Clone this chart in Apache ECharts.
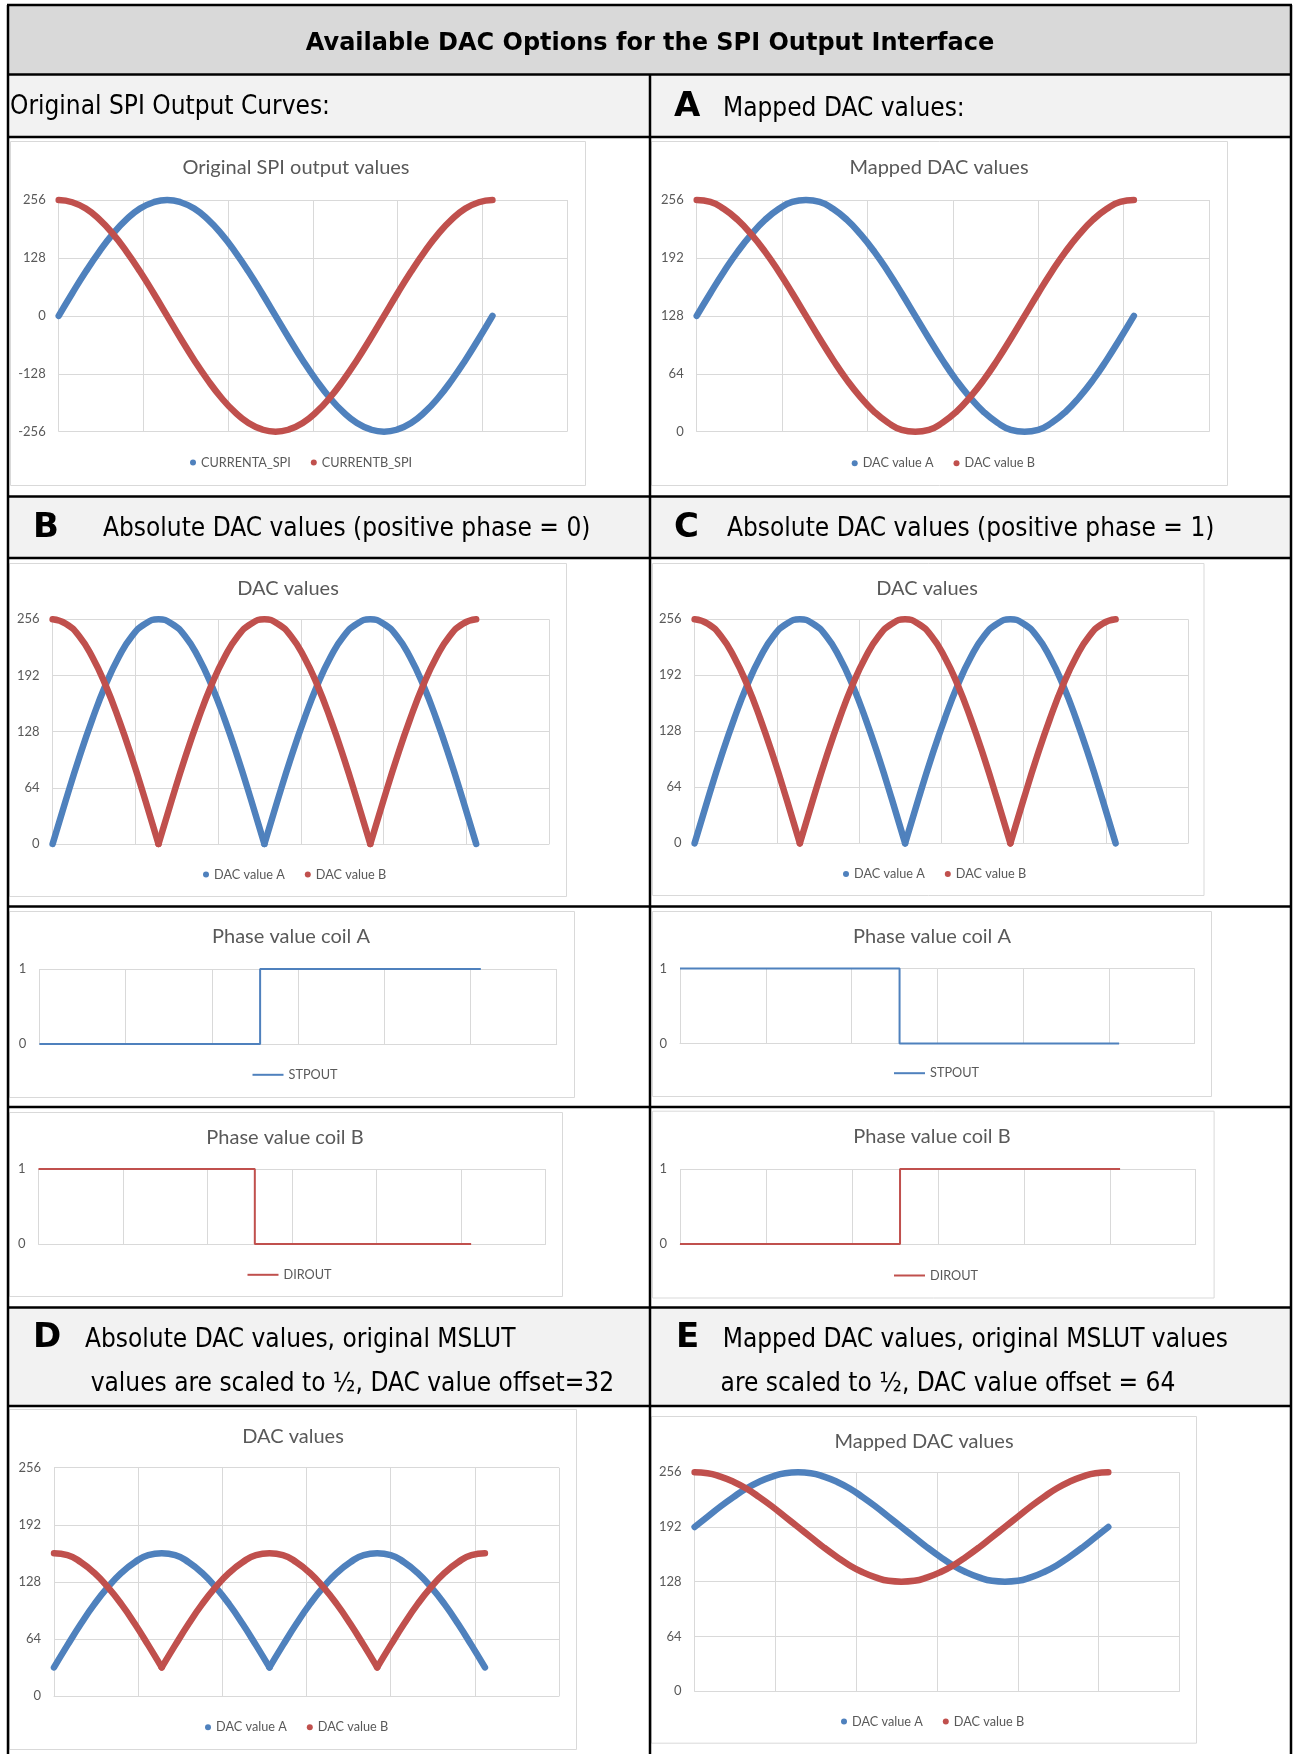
<!DOCTYPE html>
<html>
<head>
<meta charset="utf-8">
<title>Available DAC Options for the SPI Output Interface</title>
<script src="https://cdn.jsdelivr.net/npm/echarts@6/dist/echarts.min.js"></script>
<style>
    html, body { margin: 0; padding: 0; background: #fff; }
    #main { width: 1293px; height: 1754px; }
</style>
</head>
<body>
<div id="main"></div>
<script>
// microstep position (x) of every sampled point, 0..1024
var xSteps = [0, 32, 64, 96, 128, 160, 192, 224, 256, 288, 320, 352, 384, 416, 448, 480, 512,
    544, 576, 608, 640, 672, 704, 736, 768, 800, 832, 864, 896, 928, 960, 992, 1024];

// original SPI output curves
var spiA = [0, 50, 98, 142, 181, 213, 237, 251, 256, 251, 237, 213, 181, 142, 98, 50, 0,
    -50, -98, -142, -181, -213, -237, -251, -256, -251, -237, -213, -181, -142, -98, -50, 0];
var spiB = [256, 251, 237, 213, 181, 142, 98, 50, 0, -50, -98, -142, -181, -213, -237, -251, -256,
    -251, -237, -213, -181, -142, -98, -50, 0, 50, 98, 142, 181, 213, 237, 251, 256];

// A: mapped DAC values
var mapA = [128, 153, 177, 199, 218, 234, 246, 254, 256, 254, 246, 234, 218, 199, 177, 153, 128,
    103, 79, 57, 38, 22, 10, 2, 0, 2, 10, 22, 38, 57, 79, 103, 128];
var mapB = [256, 254, 246, 234, 218, 199, 177, 153, 128, 103, 79, 57, 38, 22, 10, 2, 0,
    2, 10, 22, 38, 57, 79, 103, 128, 153, 177, 199, 218, 234, 246, 254, 256];

// B / C: absolute DAC values
var absA = [0, 50, 98, 142, 181, 213, 237, 251, 256, 251, 237, 213, 181, 142, 98, 50, 0,
    50, 98, 142, 181, 213, 237, 251, 256, 251, 237, 213, 181, 142, 98, 50, 0];
var absB = [256, 251, 237, 213, 181, 142, 98, 50, 0, 50, 98, 142, 181, 213, 237, 251, 256,
    251, 237, 213, 181, 142, 98, 50, 0, 50, 98, 142, 181, 213, 237, 251, 256];

// D: absolute, scaled to 1/2, offset 32
var halfAbsA = [32, 57, 81, 103, 122, 138, 150, 158, 160, 158, 150, 138, 122, 103, 81, 57, 32,
    57, 81, 103, 122, 138, 150, 158, 160, 158, 150, 138, 122, 103, 81, 57, 32];
var halfAbsB = [160, 158, 150, 138, 122, 103, 81, 57, 32, 57, 81, 103, 122, 138, 150, 158, 160,
    158, 150, 138, 122, 103, 81, 57, 32, 57, 81, 103, 122, 138, 150, 158, 160];

// E: mapped, scaled to 1/2, offset 64
var halfMapA = [192, 204, 216, 227, 237, 245, 251, 255, 256, 255, 251, 245, 237, 227, 216, 204, 192,
    180, 168, 157, 147, 139, 133, 129, 128, 129, 133, 139, 147, 157, 168, 180, 192];
var halfMapB = [256, 255, 251, 245, 237, 227, 216, 204, 192, 180, 168, 157, 147, 139, 133, 129, 128,
    129, 133, 139, 147, 157, 168, 180, 192, 204, 216, 227, 237, 245, 251, 255, 256];

// phase outputs (step charts)
var phaseX = [0, 512, 1024];
var stpoutPhase0 = [0, 1, 1];
var diroutPhase0 = [1, 0, 0];
var stpoutPhase1 = [1, 0, 0];
var diroutPhase1 = [0, 1, 1];

var BLUE = '#4F81BD', RED = '#C0504D', GRID = '#d9d9d9', TXT = '#595959';
var chartFont = 'Lato';
var headFont = 'DejaVu Sans';
var sectFont = 'DejaVu Sans Condensed';

// every small Excel chart in the table: box, plot area, title, legend
var panels = [
    {box: [10, 141, 575, 344], plot: [58.7, 200, 508.3, 231.7], title: 'Original SPI output values', tp: [296, 168],
        lg: [190, 463], y: [-256, 256, 128],
        lines: [['CURRENTA_SPI', spiA, BLUE], ['CURRENTB_SPI', spiB, RED]]},
    {box: [651, 141, 576, 344], plot: [696.7, 200, 512.3, 231.7], title: 'Mapped DAC values', tp: [939, 168],
        lg: [851.7, 463.7], y: [0, 256, 64],
        lines: [['DAC value A', mapA, BLUE], ['DAC value B', mapB, RED]]},
    {box: [9, 563, 557, 333], plot: [52.6, 619.3, 496.4, 224.7], title: 'DAC values', tp: [288, 589],
        lg: [203, 875], y: [0, 256, 64], cusp: true,
        lines: [['DAC value A', absA, BLUE], ['DAC value B', absB, RED]]},
    {box: [652, 563, 551.5, 332], plot: [694.6, 619.3, 493.4, 224], title: 'DAC values', tp: [927, 589],
        lg: [843, 874.6], y: [0, 256, 64], cusp: true,
        lines: [['DAC value A', absA, BLUE], ['DAC value B', absB, RED]]},
    {box: [9, 911, 565, 186], plot: [39.4, 969, 517.3, 75], title: 'Phase value coil A', tp: [291, 937],
        lg: [252.5, 1075.3], y: [0, 1, 1], step: true,
        lines: [['STPOUT', stpoutPhase0, BLUE]]},
    {box: [9, 1112, 553, 184], plot: [38.5, 1169, 507, 75], title: 'Phase value coil B', tp: [285, 1138],
        lg: [247.5, 1275.3], y: [0, 1, 1], step: true,
        lines: [['DIROUT', diroutPhase0, RED]]},
    {box: [652, 911, 559, 185], plot: [680, 968.6, 514.6, 75], title: 'Phase value coil A', tp: [932, 937],
        lg: [894, 1073.7], y: [0, 1, 1], step: true,
        lines: [['STPOUT', stpoutPhase1, BLUE]]},
    {box: [652, 1110.7, 561.6, 186.8], plot: [680, 1169, 515.7, 75], title: 'Phase value coil B', tp: [932, 1137],
        lg: [894, 1276], y: [0, 1, 1], step: true,
        lines: [['DIROUT', diroutPhase1, RED]]},
    {box: [9, 1409, 567, 340], plot: [54, 1467.7, 505, 228.3], title: 'DAC values', tp: [293, 1436.5],
        lg: [205, 1727.7], y: [0, 256, 64], cusp: true,
        lines: [['DAC value A', halfAbsA, BLUE], ['DAC value B', halfAbsB, RED]]},
    {box: [651, 1416, 545, 326.7], plot: [694.6, 1472.3, 484.8, 218.7], title: 'Mapped DAC values', tp: [924, 1441.5],
        lg: [841, 1722], y: [0, 256, 64],
        lines: [['DAC value A', halfMapA, BLUE], ['DAC value B', halfMapB, RED]]}
];

// the |sin| curves have sharp corners at zero: smooth each arch on its own
function archRanges(vals) {
    var parts = [], start = 0;
    for (var k = 1; k < vals.length - 1; k++) {
        if (vals[k] < vals[k - 1] && vals[k] < vals[k + 1]) {
            parts.push([start, k]);
            start = k;
        }
    }
    parts.push([start, vals.length - 1]);
    return parts;
}

var grid = [], xAxis = [], yAxis = [], series = [], legend = [], graphic = [];

// table backgrounds (header row + section rows)
var xL = 8, xM = 650, xR = 1291;
graphic.push({type: 'rect', shape: {x: xL, y: 5, width: xR - xL, height: 69.5}, style: {fill: '#d9d9d9'}});
[[74.5, 137], [496.5, 558], [1307.5, 1406]].forEach(function (r) {
    graphic.push({type: 'rect', shape: {x: xL, y: r[0], width: xR - xL, height: r[1] - r[0]}, style: {fill: '#f2f2f2'}});
});

panels.forEach(function (p, i) {
    grid.push({left: p.plot[0], top: p.plot[1], width: p.plot[2], height: p.plot[3]});
    xAxis.push({
        gridIndex: i, type: 'value', min: 0, max: 1200, interval: 200,
        axisLabel: {show: false}, axisTick: {show: false},
        axisLine: {show: true, onZero: true, lineStyle: {color: GRID}},
        splitLine: {show: true, lineStyle: {color: GRID}}
    });
    yAxis.push({
        gridIndex: i, type: 'value', min: p.y[0], max: p.y[1], interval: p.y[2],
        axisLine: {show: false}, axisTick: {show: false},
        axisLabel: {color: TXT, fontFamily: chartFont, fontSize: 13, margin: 13},
        splitLine: {show: true, lineStyle: {color: GRID}}
    });
    var names = [];
    p.lines.forEach(function (l) {
        names.push(l[0]);
        if (p.step) {
            series.push({
                name: l[0], type: 'line', xAxisIndex: i, yAxisIndex: i,
                data: phaseX.map(function (x, k) { return [x, l[1][k]]; }),
                showSymbol: false, clip: false, silent: true, step: 'end',
                color: l[2], lineStyle: {color: l[2], width: 2}
            });
            return;
        }
        var ranges = p.cusp ? archRanges(l[1]) : [[0, l[1].length - 1]];
        ranges.forEach(function (r) {
            var pts = [];
            for (var k = r[0]; k <= r[1]; k++) pts.push([xSteps[k], l[1][k]]);
            series.push({
                name: l[0], type: 'line', xAxisIndex: i, yAxisIndex: i,
                data: pts, showSymbol: false, clip: false, silent: true, smooth: true,
                color: l[2],
                lineStyle: {color: l[2], width: 6.5, cap: 'round', join: 'round'}
            });
        });
    });
    legend.push({
        left: p.lg[0], top: p.lg[1] - 7, padding: 0, itemGap: 20, selectedMode: false,
        icon: p.step ? 'rect' : 'circle',
        itemWidth: p.step ? 31 : 6, itemHeight: p.step ? 2 : 6,
        data: names,
        textStyle: {color: TXT, fontFamily: chartFont, fontSize: 12.7}
    });
    // chart box + title
    graphic.push({type: 'rect', shape: {x: p.box[0] + 0.5, y: p.box[1] + 0.5, width: p.box[2], height: p.box[3]},
        style: {fill: 'none', stroke: GRID, lineWidth: 1}});
    graphic.push({type: 'text', x: p.tp[0], y: p.tp[1],
        style: {text: p.title, fill: TXT, fontFamily: chartFont, fontSize: 20, align: 'center', verticalAlign: 'middle'}});
});

// table rules
[5, 74.5, 137, 496.5, 558, 906.5, 1107, 1307.5, 1406].forEach(function (y) {
    graphic.push({type: 'line', shape: {x1: xL - 1, y1: y, x2: xR + 1, y2: y}, style: {stroke: '#000', lineWidth: 2.5}});
});
graphic.push({type: 'line', shape: {x1: xL, y1: 5, x2: xL, y2: 1754}, style: {stroke: '#000', lineWidth: 2.5}});
graphic.push({type: 'line', shape: {x1: xR, y1: 5, x2: xR, y2: 1754}, style: {stroke: '#000', lineWidth: 2.5}});
graphic.push({type: 'line', shape: {x1: xM, y1: 74.5, x2: xM, y2: 1754}, style: {stroke: '#000', lineWidth: 2.5}});

// header and section texts
function txt(s, x, y, size, family, weight, align) {
    graphic.push({type: 'text', x: x, y: y,
        style: {text: s, fill: '#000', fontFamily: family, fontSize: size, fontWeight: weight || 'normal',
            align: align || 'left', verticalAlign: 'middle'}});
}
txt('Available DAC Options for the SPI Output Interface', 650, 44, 24, headFont, 'bold', 'center');
txt('Original SPI Output Curves:', 10, 107.5, 26, sectFont);
txt('A', 674, 107, 34, headFont, 'bold');
txt('Mapped DAC values:', 723, 109.5, 26, sectFont);
txt('B', 33, 528, 34, headFont, 'bold');
txt('Absolute DAC values (positive phase = 0)', 103, 529, 26, sectFont);
txt('C', 674, 528, 34, headFont, 'bold');
txt('Absolute DAC values (positive phase = 1)', 727, 529, 26, sectFont);
txt('D', 33, 1338, 34, headFont, 'bold');
txt('Absolute DAC values, original MSLUT', 85, 1340, 26, sectFont);
txt('values are scaled to ½, DAC value offset=32', 90.7, 1384.5, 26, sectFont);
txt('E', 676, 1338, 34, headFont, 'bold');
txt('Mapped DAC values, original MSLUT values', 722.7, 1340, 26, sectFont);
txt('are scaled to ½, DAC value offset = 64', 720.6, 1384.5, 26, sectFont);

var myChart = echarts.init(document.getElementById('main'), null, {renderer: 'canvas'});
myChart.setOption({
    backgroundColor: '#fff',
    animation: false,
    grid: grid,
    xAxis: xAxis,
    yAxis: yAxis,
    legend: legend,
    graphic: graphic,
    series: series
});
</script>
</body>
</html>
